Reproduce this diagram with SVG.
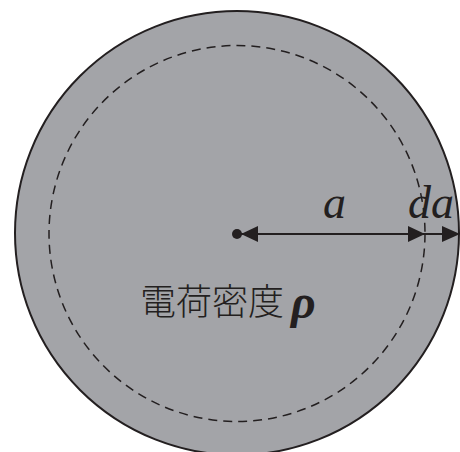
<svg xmlns="http://www.w3.org/2000/svg" width="460" height="452" viewBox="0 0 460 452">
<style>
.lbl{font-family:"Liberation Serif","DejaVu Serif",serif;font-style:italic;font-size:46px;fill:#231f20}
.cjk{font-family:"Noto Sans CJK JP","Noto Sans CJK SC",sans-serif;font-size:36px;font-weight:300;fill:#231f20}
.rho{font-family:"Liberation Serif","DejaVu Serif",serif;font-style:italic;font-weight:bold;font-size:48px;fill:#231f20}
.ln{stroke:#231f20;stroke-width:2;fill:none}
.head{fill:#231f20}
</style>
<g id="sphere">
<circle cx="237" cy="233" r="222" fill="#a3a4a8" stroke="#231f20" stroke-width="2"/>
</g>
<g id="shell">
<circle cx="237" cy="233.5" r="188" fill="none" stroke="#231f20" stroke-width="1.5" stroke-dasharray="9,6"/>
</g>
<g id="connectors">
<line class="ln" x1="237" y1="234" x2="444" y2="234"/>
<circle cx="237" cy="234" r="5" class="head"/>
<polygon class="head" points="241,234 258,226 258,242"/>
<polygon class="head" points="425,234 408,226 408,242"/>
<polygon class="head" points="460,234 442,226 442,242"/>
</g>
<g id="labels">
<text class="lbl" x="323" y="218">a</text>
<text class="lbl" x="408" y="218">da</text>
<text class="cjk" x="140" y="315">電荷密度</text>
<text class="rho" x="291" y="318">ρ</text>
</g>
</svg>
